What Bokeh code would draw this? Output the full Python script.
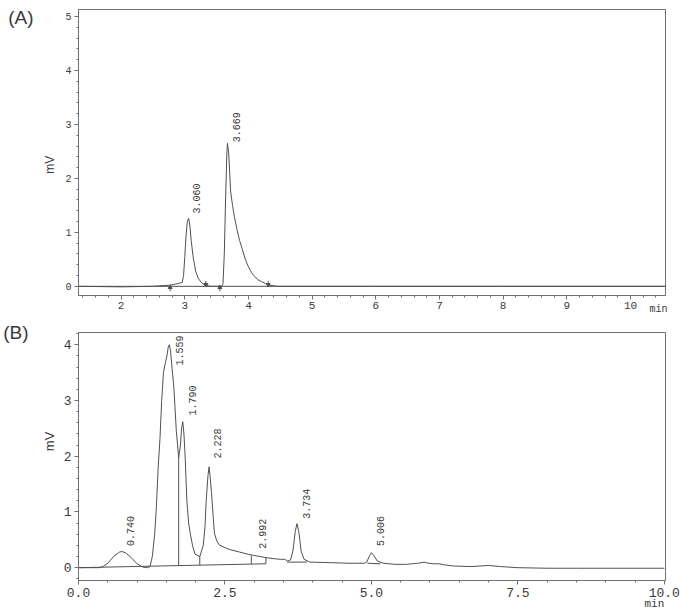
import numpy as np
from bokeh.plotting import figure
from bokeh.layouts import column
from bokeh.models import FixedTicker, LinearAxis, CustomJSTickFormatter
from bokeh.core.properties import value
from bokeh.embed import file_html
from bokeh.resources import INLINE

# ---------------- data: panel A ----------------
a_time = [1.33, 2.0, 2.5, 2.75, 2.85, 2.92, 2.96, 2.98, 3.00, 3.02, 3.04, 3.06, 3.08, 3.10,
          3.13, 3.17, 3.21, 3.26, 3.32, 3.40, 3.58, 3.60, 3.62, 3.64, 3.66, 3.67, 3.69,
          3.72, 3.75, 3.78, 3.82, 3.86, 3.90, 3.95, 4.00, 4.05, 4.10, 4.15, 4.20, 4.27,
          4.33, 4.45, 6.0, 8.0, 10.55]
a_mv = [0.0, -0.01, 0.0, 0.02, 0.04, 0.06, 0.07, 0.2, 0.55, 0.95, 1.2, 1.26, 1.12, 0.85,
        0.55, 0.28, 0.15, 0.07, 0.02, 0.0, 0.0, 0.05, 0.6, 1.6, 2.45, 2.65, 2.45,
        1.75, 1.5, 1.28, 1.05, 0.85, 0.70, 0.5, 0.36, 0.25, 0.18, 0.12, 0.09, 0.05,
        0.02, 0.0, 0.0, 0.0, 0.0]
a_peak_rt = ["3.060", "3.669"]
a_peak_lx = [3.19, 3.81]
a_peak_ly = [1.35, 2.67]
a_mark_t = [2.77, 3.33, 3.55, 4.31]
a_mark_up = [True, False, True, False]
a_xticks = [2, 3, 4, 5, 6, 7, 8, 9, 10]
a_yticks = [0, 1, 2, 3, 4, 5]

# ---------------- data: panel B ----------------
b_time = [0.0, 0.35, 0.42, 0.5, 0.6, 0.7, 0.74, 0.8, 0.9, 1.0, 1.1, 1.18,
          1.22, 1.26, 1.30, 1.33, 1.36, 1.39, 1.42, 1.45, 1.48, 1.51, 1.53, 1.55, 1.57,
          1.60, 1.63, 1.67, 1.71, 1.74, 1.76, 1.78, 1.80, 1.82, 1.85, 1.88, 1.91, 1.95,
          1.99, 2.07, 2.13, 2.16, 2.18, 2.21, 2.23, 2.25, 2.27, 2.30, 2.32, 2.36, 2.40,
          2.52, 2.6, 2.75, 2.9, 2.99, 3.1, 3.2, 3.35, 3.45, 3.52, 3.57, 3.62, 3.66, 3.70,
          3.73, 3.76, 3.80, 3.85, 3.95, 4.3, 4.6, 4.88, 4.92, 4.97, 5.0, 5.04, 5.1, 5.2,
          5.4, 5.6, 5.7, 5.8, 5.9, 5.97, 6.05, 6.15, 6.25, 6.4, 6.7, 7.0, 7.2, 7.5, 8.0,
          8.5, 9.0, 9.5, 10.0]
b_mv = [0.0, 0.0, 0.02, 0.08, 0.2, 0.28, 0.29, 0.27, 0.18, 0.07, 0.01, 0.0,
        0.02, 0.2, 0.6, 1.1, 1.8, 2.3, 3.0, 3.5, 3.66, 3.8, 3.95, 4.0, 3.9,
        3.55, 3.2, 2.45, 1.97, 2.2, 2.5, 2.62, 2.4, 2.0, 1.2, 0.8, 0.6, 0.38,
        0.24, 0.2, 0.4, 0.75, 1.2, 1.65, 1.81, 1.6, 1.35, 0.9, 0.62, 0.48, 0.41,
        0.35, 0.32, 0.28, 0.24, 0.22, 0.2, 0.18, 0.16, 0.15, 0.15, 0.12, 0.14, 0.3, 0.65,
        0.79, 0.65, 0.3, 0.15, 0.1, 0.09, 0.08, 0.08, 0.1, 0.22, 0.27, 0.22, 0.12, 0.08,
        0.06, 0.06, 0.07, 0.08, 0.1, 0.08, 0.07, 0.07, 0.05, 0.03, 0.02, 0.04, 0.02, 0.0, -0.01,
        -0.01, -0.01, -0.01, -0.01]
b_peak_rt = ["0.740", "1.559", "1.790", "2.228", "2.992", "3.734", "5.006"]
b_peak_lx = [0.88, 1.73, 1.95, 2.37, 3.14, 3.90, 5.15]
b_peak_ly = [0.39, 3.63, 2.73, 1.96, 0.34, 0.88, 0.39]
b_base_x0 = [0.0, 3.56, 4.93]
b_base_y0 = [0.0, 0.10, 0.08]
b_base_x1 = [3.2, 3.90, 5.15]
b_base_y1 = [0.07, 0.10, 0.07]
b_drop_t = [1.71, 2.07, 2.95, 3.2]
b_drop_y0 = [0.04, 0.045, 0.065, 0.07]
b_drop_y1 = [1.97, 0.2, 0.22, 0.18]
b_xticks = [0, 2.5, 5, 7.5, 10]
b_yticks = [0, 1, 2, 3, 4]

LINE = "#505050"
AXIS = "#707070"
TXT = "#3a3a3a"
MONO = "Liberation Mono"
SANS = "Liberation Sans"


def style(p, xticks, xminor, yticks, yminor, xsize, ysize, xstand):
    p.outline_line_color = AXIS
    p.outline_line_width = 1
    p.grid.visible = False
    p.background_fill_color = "white"
    p.border_fill_color = "white"
    for ax in (p.xaxis[0], p.yaxis[0]):
        ax.axis_line_color = AXIS
        ax.major_tick_line_color = AXIS
        ax.minor_tick_line_color = AXIS
        ax.major_tick_in = 0
        ax.minor_tick_in = 0
        ax.major_label_text_color = TXT
        ax.major_label_text_font = MONO
    p.xaxis[0].ticker = FixedTicker(ticks=xticks, minor_ticks=xminor)
    p.yaxis[0].ticker = FixedTicker(ticks=yticks, minor_ticks=yminor)
    p.xaxis[0].major_tick_out = 4
    p.xaxis[0].minor_tick_out = 2
    p.yaxis[0].major_tick_out = 4
    p.yaxis[0].minor_tick_out = 2
    p.xaxis[0].major_label_text_font_size = xsize
    p.yaxis[0].major_label_text_font_size = ysize
    p.xaxis[0].major_label_standoff = xstand
    p.yaxis[0].major_label_standoff = 3


def text_axis(p, side, pos, txt, font, size, standoff, orient="horizontal"):
    ax = LinearAxis(ticker=FixedTicker(ticks=[pos], minor_ticks=[]),
                    formatter=CustomJSTickFormatter(code="return %r;" % txt))
    ax.axis_line_color = None
    ax.major_tick_line_color = None
    ax.minor_tick_line_color = None
    ax.major_tick_out = 0
    ax.major_tick_in = 0
    ax.major_label_standoff = standoff
    ax.major_label_text_font = font
    ax.major_label_text_font_size = size
    ax.major_label_text_color = TXT
    ax.major_label_orientation = orient
    p.add_layout(ax, side)
    return ax


# ---------------- panel A ----------------
pa = figure(width=680, height=318, x_range=(1.33, 10.55), y_range=(-0.17, 5.13),
            output_backend="svg", toolbar_location=None,
            min_border_left=76, min_border_right=15, min_border_top=9, min_border_bottom=23)
style(pa, a_xticks, [round(v, 1) for v in np.arange(1.4, 10.55, 0.2)],
      a_yticks, [round(v, 1) for v in np.arange(0, 5.1, 0.2)], "11px", "10px", 2)
pa.line(a_time, a_mv, line_color=LINE, line_width=1)
pa.segment(x0=[1.33], y0=[0.0], x1=[10.55], y1=[0.0], line_color=LINE, line_width=1)
mk_y0 = [(-0.09 if u else 0.1) for u in a_mark_up]
mk_y1 = [(0.0 if u else 0.01) for u in a_mark_up]
pa.segment(x0=a_mark_t, y0=mk_y0, x1=a_mark_t, y1=mk_y1, line_color=LINE, line_width=1)
pa.scatter(a_mark_t, [(-0.02 if u else 0.03) for u in a_mark_up],
           marker=["triangle" if u else "inverted_triangle" for u in a_mark_up],
           size=4, fill_color=LINE, line_color=LINE)
pa.text(x=a_peak_lx, y=a_peak_ly, text=a_peak_rt, angle=np.pi / 2,
        text_font=value(MONO), text_font_size="10px", text_color=TXT,
        text_align="left", text_baseline="middle")
text_axis(pa, "left", 2.42, "mV", SANS, "12px", 12, np.pi / 2)
text_axis(pa, "left", 4.98, "(A)", SANS, "19px", 0)
text_axis(pa, "below", 10.44, "min", MONO, "10px", -8)

# ---------------- panel B ----------------
pb = figure(width=680, height=297, x_range=(0, 10.02), y_range=(-0.23, 4.22),
            output_backend="svg", toolbar_location=None,
            min_border_left=78, min_border_right=11, min_border_top=14, min_border_bottom=35)
style(pb, b_xticks, [round(v, 1) for v in np.arange(0, 10.01, 0.5)],
      b_yticks, [round(v, 1) for v in np.arange(-0.2, 4.21, 0.2)], "13px", "13px", 3)
pb.xaxis[0].formatter = CustomJSTickFormatter(code="return tick.toFixed(1);")
pb.line(b_time, b_mv, line_color=LINE, line_width=1)
pb.segment(x0=b_base_x0, y0=b_base_y0, x1=b_base_x1, y1=b_base_y1, line_color=LINE, line_width=1)
pb.segment(x0=b_drop_t, y0=b_drop_y0, x1=b_drop_t, y1=b_drop_y1, line_color=LINE, line_width=1)
pb.text(x=b_peak_lx, y=b_peak_ly, text=b_peak_rt, angle=np.pi / 2,
        text_font=value(MONO), text_font_size="10px", text_color=TXT,
        text_align="left", text_baseline="middle")
text_axis(pb, "left", 2.44, "mV", SANS, "13px", 11, np.pi / 2)
text_axis(pb, "left", 4.215, "(B)", SANS, "19px", 3)
text_axis(pb, "below", 9.83, "min", MONO, "11px", -2)

layout = column(pa, pb, spacing=0)
open("out.html", "w").write(file_html(layout, INLINE))
